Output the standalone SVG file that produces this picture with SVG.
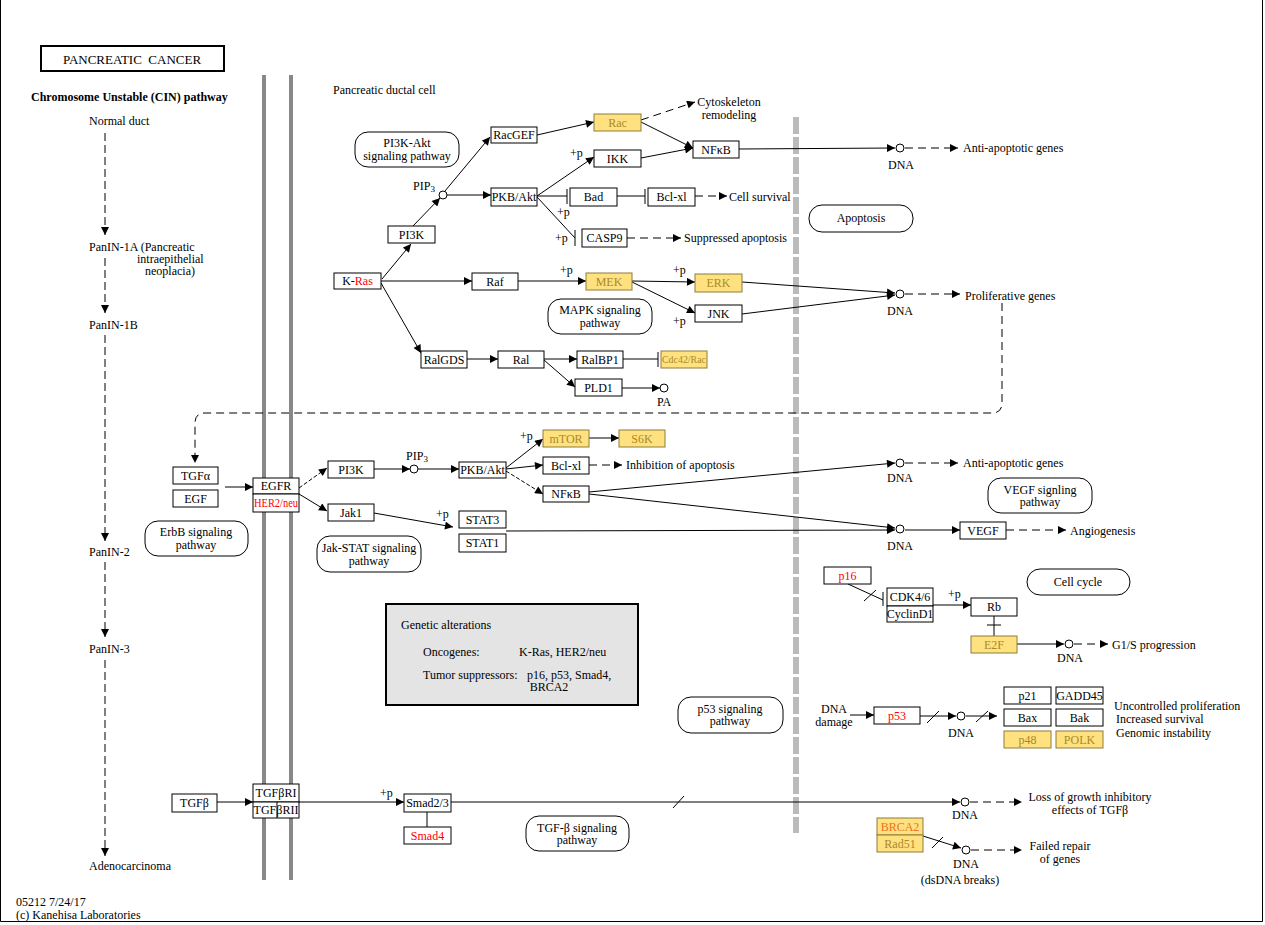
<svg xmlns="http://www.w3.org/2000/svg" width="1265" height="925" viewBox="0 0 1265 925" font-family="'Liberation Serif','Times New Roman',serif">
<defs>
<marker id="ah" viewBox="0 0 10 10" refX="10" refY="5" markerWidth="9" markerHeight="8" markerUnits="userSpaceOnUse" orient="auto"><path d="M0,0L10,5L0,10z" fill="#000"/></marker>
<style>
text{font-family:"Liberation Serif","Times New Roman",serif;font-size:12px;fill:#000}
.c{text-anchor:middle}
.b{fill:#fff;stroke:#000;stroke-width:1}
.y{fill:#ffe27f;stroke:#8c7c3c;stroke-width:1}
.p{fill:#fff;stroke:#000;stroke-width:1}
.yt{fill:#a8892a}
.rt{fill:#f00}
.e{stroke:#000;stroke-width:1;fill:none}
.a{marker-end:url(#ah)}
.d{stroke-dasharray:8 5}
.ld{stroke-dasharray:8 4}
.sd{stroke-dasharray:4 2}
.dna{fill:#fff;stroke:#000;stroke-width:1}
</style>
</defs>
<rect x="0" y="0" width="1265" height="925" fill="#fff"/>
<path d="M0.5,0 V921.5 H1262.5 V0" fill="none" stroke="#000" stroke-width="1"/>

<g id="title">
<rect x="41" y="46" width="183" height="25" fill="#fff" stroke="#000" stroke-width="2"/>
<text x="132" y="64" class="c" xml:space="preserve" style="font-size:13px">PANCREATIC  CANCER</text>
</g>

<g id="labels">
<text x="31" y="101" font-weight="bold">Chromosome Unstable (CIN) pathway</text>
<text x="89" y="125">Normal duct</text>
<text x="89" y="251">PanIN-1A (Pancreatic</text>
<text x="137" y="263">intraepithelial</text>
<text x="145" y="275">neoplacia)</text>
<text x="89" y="329">PanIN-1B</text>
<text x="89" y="556">PanIN-2</text>
<text x="89" y="653">PanIN-3</text>
<text x="89" y="870">Adenocarcinoma</text>
<text x="16" y="906">05212 7/24/17</text>
<text x="16" y="919">(c) Kanehisa Laboratories</text>
<text x="333" y="94">Pancreatic ductal cell</text>
<text x="729" y="106" class="c">Cytoskeleton</text>
<text x="729" y="119" class="c">remodeling</text>
<text x="729" y="201">Cell survival</text>
<text x="684" y="242">Suppressed apoptosis</text>
<text x="963" y="152">Anti-apoptotic genes</text>
<text x="965" y="300">Proliferative genes</text>
<text x="901" y="169" class="c">DNA</text>
<text x="900" y="315" class="c">DNA</text>
<text x="664" y="406" class="c">PA</text>
<text x="424" y="190" class="c">PIP<tspan font-size="9" dy="2">3</tspan></text>
<text x="417" y="460" class="c">PIP<tspan font-size="9" dy="2">3</tspan></text>
<text x="570" y="157">+p</text>
<text x="557" y="216">+p</text>
<text x="555" y="242">+p</text>
<text x="560" y="274">+p</text>
<text x="673" y="274">+p</text>
<text x="673" y="325">+p</text>
<text x="520" y="440">+p</text>
<text x="436" y="518">+p</text>
<text x="948" y="598">+p</text>
<text x="380" y="797">+p</text>
<text x="626" y="469">Inhibition of apoptosis</text>
<text x="963" y="467">Anti-apoptotic genes</text>
<text x="900" y="482" class="c">DNA</text>
<text x="900" y="550" class="c">DNA</text>
<text x="1070" y="535">Angiogenesis</text>
<text x="1070" y="662" class="c">DNA</text>
<text x="1112" y="649">G1/S progression</text>
<text x="834" y="713" class="c">DNA</text>
<text x="834" y="726" class="c">damage</text>
<text x="961" y="737" class="c">DNA</text>
<text x="1114" y="710">Uncontrolled proliferation</text>
<text x="1116" y="723">Increased survival</text>
<text x="1116" y="737">Genomic instability</text>
<text x="1090" y="801" class="c">Loss of growth inhibitory</text>
<text x="1090" y="814" class="c">effects of TGFβ</text>
<text x="965" y="819" class="c">DNA</text>
<text x="1060" y="850" class="c">Failed repair</text>
<text x="1060" y="863" class="c">of genes</text>
<text x="966" y="868" class="c">DNA</text>
<text x="960" y="884" class="c">(dsDNA breaks)</text>
</g>

<g id="membranes">
<rect x="262" y="75" width="4" height="805" fill="#888"/>
<rect x="289" y="75" width="4" height="805" fill="#888"/>
<line x1="796" y1="117" x2="796" y2="833" stroke="#bbb" stroke-width="6" stroke-dasharray="17 3"/>
</g>

<g id="connectors">
<line class="e a ld" x1="105" y1="133" x2="105" y2="235"/>
<line class="e a ld" x1="105" y1="258" x2="105" y2="313"/>
<line class="e a ld" x1="105" y1="335" x2="105" y2="541"/>
<line class="e a ld" x1="105" y1="562" x2="105" y2="637"/>
<line class="e a ld" x1="105" y1="660" x2="105" y2="856"/>

<line class="e a" x1="382" y1="279" x2="411" y2="244"/>
<line class="e a" x1="413" y1="226" x2="440" y2="198"/>
<line class="e a" x1="445" y1="191" x2="490" y2="137"/>
<line class="e a" x1="447" y1="195" x2="491" y2="195"/>
<line class="e a" x1="537" y1="135" x2="594" y2="122"/>
<line class="e a d" x1="641" y1="120" x2="695" y2="102"/>
<line class="e a" x1="641" y1="122" x2="693" y2="148"/>
<line class="e a" x1="641" y1="158" x2="693" y2="148"/>
<line class="e a" x1="537" y1="196" x2="594" y2="157"/>
<line class="e" x1="537" y1="196" x2="567" y2="196"/>
<line class="e" x1="567" y1="189" x2="567" y2="204"/>
<line class="e" x1="617" y1="196" x2="645" y2="196"/>
<line class="e" x1="645" y1="189" x2="645" y2="204"/>
<line class="e a d" x1="695" y1="196" x2="727" y2="196"/>
<line class="e" x1="537" y1="197" x2="575" y2="238"/>
<line class="e" x1="575" y1="230" x2="575" y2="246"/>
<line class="e a d" x1="627" y1="238" x2="681" y2="238"/>
<line class="e a" x1="739" y1="149" x2="895" y2="148"/>
<line class="e a d" x1="905" y1="148" x2="958" y2="148"/>

<line class="e a" x1="381" y1="281" x2="472" y2="281"/>
<line class="e a" x1="381" y1="283" x2="421" y2="353"/>
<line class="e a" x1="518" y1="281" x2="586" y2="281"/>
<line class="e a" x1="632" y1="281" x2="695" y2="282"/>
<line class="e a" x1="632" y1="282" x2="695" y2="313"/>
<line class="e a" x1="742" y1="282" x2="895" y2="293"/>
<line class="e a" x1="742" y1="314" x2="895" y2="295"/>
<line class="e a d" x1="905" y1="294" x2="960" y2="294"/>
<path class="e a d" d="M1002,303 V403 Q1002,413 992,413 H205 Q195,413 195,423 V463"/>
<line class="e a" x1="467" y1="359" x2="498" y2="359"/>
<line class="e a" x1="544" y1="359" x2="577" y2="359"/>
<line class="e a" x1="544" y1="360" x2="575" y2="387"/>
<line class="e" x1="623" y1="359" x2="658" y2="359"/>
<line class="e" x1="658" y1="352" x2="658" y2="367"/>
<line class="e a" x1="622" y1="388" x2="660" y2="388"/>

<line class="e a" x1="225" y1="487" x2="253" y2="487"/>
<line class="e a sd" x1="299" y1="488" x2="327" y2="468"/>
<line class="e a" x1="299" y1="494" x2="327" y2="511"/>
<line class="e a" x1="374" y1="469" x2="410" y2="469"/>
<line class="e a" x1="418" y1="469" x2="459" y2="469"/>
<line class="e a" x1="506" y1="468" x2="543" y2="439"/>
<line class="e a" x1="506" y1="469" x2="543" y2="465"/>
<line class="e a sd" x1="506" y1="471" x2="543" y2="494"/>
<line class="e a" x1="589" y1="438" x2="619" y2="438"/>
<line class="e a d" x1="589" y1="465" x2="622" y2="465"/>
<line class="e a" x1="589" y1="492" x2="895" y2="463"/>
<line class="e a d" x1="905" y1="463" x2="958" y2="463"/>
<line class="e a" x1="589" y1="494" x2="895" y2="528"/>
<line class="e a" x1="506" y1="531" x2="895" y2="530"/>
<line class="e a" x1="374" y1="513" x2="453" y2="527"/>
<line class="e a" x1="905" y1="530" x2="960" y2="530"/>
<line class="e a d" x1="1006" y1="530" x2="1066" y2="530"/>

<line class="e" x1="848" y1="584" x2="883" y2="600"/>
<line class="e" x1="883" y1="592" x2="883" y2="606"/>
<line class="e" x1="864" y1="601" x2="876" y2="590"/>
<line class="e a" x1="933" y1="605" x2="971" y2="605"/>
<line class="e" x1="994" y1="616" x2="994" y2="636"/>
<line class="e" x1="987" y1="625" x2="1001" y2="625"/>
<line class="e a" x1="1017" y1="644" x2="1064" y2="644"/>
<line class="e a d" x1="1074" y1="644" x2="1108" y2="644"/>
<line class="e a" x1="850" y1="715" x2="874" y2="715"/>
<line class="e a" x1="920" y1="716" x2="956" y2="716"/>
<line class="e" x1="927" y1="723" x2="939" y2="711"/>
<line class="e a" x1="966" y1="716" x2="997" y2="716"/>
<line class="e" x1="976" y1="722" x2="988" y2="711"/>

<line class="e a" x1="217" y1="802" x2="253" y2="802"/>
<line class="e a" x1="299" y1="802" x2="404" y2="802"/>
<line class="e" x1="427" y1="812" x2="427" y2="827"/>
<line class="e a" x1="451" y1="802" x2="960" y2="802"/>
<line class="e" x1="673" y1="808" x2="684" y2="796"/>
<line class="e a d" x1="970" y1="802" x2="1022" y2="802"/>
<line class="e a" x1="923" y1="836" x2="961" y2="848"/>
<line class="e" x1="932" y1="848" x2="943" y2="837"/>
<line class="e a d" x1="971" y1="850" x2="1022" y2="850"/>

<circle class="dna" cx="900" cy="148" r="4"/>
<circle class="dna" cx="900" cy="294" r="4"/>
<circle class="dna" cx="443" cy="195" r="4"/>
<circle class="dna" cx="664" cy="388" r="4"/>
<circle class="dna" cx="414" cy="469" r="4"/>
<circle class="dna" cx="900" cy="463" r="4"/>
<circle class="dna" cx="900" cy="529" r="4"/>
<circle class="dna" cx="1069" cy="644" r="4"/>
<circle class="dna" cx="961" cy="716" r="4"/>
<circle class="dna" cx="965" cy="802" r="4"/>
<circle class="dna" cx="966" cy="850" r="4"/>
</g>

<g id="pw-pi3k"><rect class="p" x="355" y="132" width="104" height="35" rx="13"/><text x="407" y="147" class="c">PI3K-Akt</text><text x="407" y="160" class="c">signaling pathway</text></g>
<g id="pw-mapk"><rect class="p" x="548" y="299" width="104" height="35" rx="13"/><text x="600" y="314" class="c">MAPK signaling</text><text x="600" y="327" class="c">pathway</text></g>
<g id="pw-apop"><rect class="p" x="809" y="205" width="104" height="27" rx="13"/><text x="861" y="222" class="c">Apoptosis</text></g>
<g id="pw-erbb"><rect class="p" x="145" y="521" width="103" height="35" rx="13"/><text x="196" y="536" class="c">ErbB signaling</text><text x="196" y="549" class="c">pathway</text></g>
<g id="pw-jak"><rect class="p" x="317" y="536" width="104" height="36" rx="13"/><text x="369" y="552" class="c">Jak-STAT signaling</text><text x="369" y="565" class="c">pathway</text></g>
<g id="pw-vegf"><rect class="p" x="988" y="478" width="104" height="35" rx="13"/><text x="1040" y="494" class="c">VEGF signling</text><text x="1040" y="506" class="c">pathway</text></g>
<g id="pw-cc"><rect class="p" x="1027" y="569" width="103" height="26" rx="13"/><text x="1078" y="586" class="c">Cell cycle</text></g>
<g id="pw-p53"><rect class="p" x="678" y="697" width="105" height="36" rx="13"/><text x="730" y="713" class="c">p53 signaling</text><text x="730" y="725" class="c">pathway</text></g>
<g id="pw-tgf"><rect class="p" x="526" y="816" width="103" height="35" rx="13"/><text x="577" y="832" class="c">TGF-β signaling</text><text x="577" y="844" class="c">pathway</text></g>

<g id="genetic">
<rect x="386" y="604" width="252" height="101" fill="#e4e4e4" stroke="#000" stroke-width="2"/>
<text x="401" y="629">Genetic alterations</text>
<text x="423" y="656">Oncogenes:</text>
<text x="519" y="656">K-Ras, HER2/neu</text>
<text x="423" y="679">Tumor suppressors:</text>
<text x="527" y="679">p16, p53, Smad4,</text>
<text x="549" y="691" class="c">BRCA2</text>
</g>

<g id="RacGEF"><rect class="b" x="491" y="127" width="46" height="16"/><text x="514" y="139" class="c">RacGEF</text></g>
<g id="Rac"><rect class="y" x="594" y="114" width="47" height="17"/><text x="617.5" y="127" class="c yt">Rac</text></g>
<g id="NFkB1"><rect class="b" x="693" y="141" width="46" height="17"/><text x="716" y="154" class="c">NFκB</text></g>
<g id="IKK"><rect class="b" x="594" y="150" width="47" height="17"/><text x="617.5" y="163" class="c">IKK</text></g>
<g id="PKB1"><rect class="b" x="491" y="188" width="46" height="18"/><text x="514" y="201" class="c">PKB/Akt</text></g>
<g id="Bad"><rect class="b" x="570" y="188" width="47" height="18"/><text x="593.5" y="201" class="c">Bad</text></g>
<g id="Bclxl1"><rect class="b" x="648" y="188" width="47" height="18"/><text x="671.5" y="201" class="c">Bcl-xl</text></g>
<g id="CASP9"><rect class="b" x="582" y="229" width="45" height="18"/><text x="604.5" y="242" class="c">CASP9</text></g>
<g id="PI3K1"><rect class="b" x="388" y="226" width="47" height="17"/><text x="411.5" y="239" class="c">PI3K</text></g>
<g id="KRas"><rect class="b" x="334" y="273" width="47" height="16"/><text x="357.5" y="285" class="c">K-<tspan class="rt">Ras</tspan></text></g>
<g id="Raf"><rect class="b" x="472" y="273" width="46" height="17"/><text x="495" y="286" class="c">Raf</text></g>
<g id="MEK"><rect class="y" x="586" y="273" width="46" height="17"/><text x="609" y="286" class="c yt">MEK</text></g>
<g id="ERK"><rect class="y" x="695" y="274" width="47" height="18"/><text x="718.5" y="287" class="c yt">ERK</text></g>
<g id="JNK"><rect class="b" x="695" y="305" width="47" height="17"/><text x="718.5" y="318" class="c">JNK</text></g>
<g id="RalGDS"><rect class="b" x="421" y="351" width="46" height="17"/><text x="444" y="364" class="c">RalGDS</text></g>
<g id="Ral"><rect class="b" x="498" y="351" width="46" height="17"/><text x="521" y="364" class="c">Ral</text></g>
<g id="RalBP1"><rect class="b" x="577" y="351" width="46" height="17"/><text x="600" y="364" class="c">RalBP1</text></g>
<g id="Cdc42"><rect class="y" x="661" y="351" width="46" height="17"/><text x="684" y="363" class="c yt" style="font-size:10px" textLength="44" lengthAdjust="spacingAndGlyphs">Cdc42/Rac</text></g>
<g id="PLD1"><rect class="b" x="575" y="379" width="47" height="17"/><text x="598.5" y="392" class="c">PLD1</text></g>

<g id="TGFa"><rect class="b" x="173" y="467" width="45" height="17"/><text x="195.5" y="480" class="c">TGFα</text></g>
<g id="EGF"><rect class="b" x="173" y="490" width="45" height="17"/><text x="195.5" y="503" class="c">EGF</text></g>
<g id="EGFR"><rect class="b" x="253" y="478" width="46" height="16"/><text x="276" y="490" class="c">EGFR</text><rect class="b" x="253" y="494" width="46" height="18"/><text x="276" y="507" class="c rt" textLength="44" lengthAdjust="spacingAndGlyphs">HER2/neu</text></g>
<g id="PI3K2"><rect class="b" x="328" y="461" width="46" height="17"/><text x="351" y="474" class="c">PI3K</text></g>
<g id="PKB2"><rect class="b" x="459" y="462" width="47" height="16"/><text x="482.5" y="474" class="c">PKB/Akt</text></g>
<g id="mTOR"><rect class="y" x="543" y="430" width="46" height="17"/><text x="566" y="443" class="c yt">mTOR</text></g>
<g id="S6K"><rect class="y" x="619" y="430" width="46" height="17"/><text x="642" y="443" class="c yt">S6K</text></g>
<g id="Bclxl2"><rect class="b" x="543" y="457" width="46" height="17"/><text x="566" y="470" class="c">Bcl-xl</text></g>
<g id="NFkB2"><rect class="b" x="543" y="486" width="46" height="16"/><text x="566" y="498" class="c">NFκB</text></g>
<g id="Jak1"><rect class="b" x="328" y="504" width="46" height="17"/><text x="351" y="517" class="c">Jak1</text></g>
<g id="STAT3"><rect class="b" x="459" y="511" width="47" height="17"/><text x="482.5" y="524" class="c">STAT3</text></g>
<g id="STAT1"><rect class="b" x="459" y="534" width="47" height="18"/><text x="482.5" y="547" class="c">STAT1</text></g>
<g id="VEGF"><rect class="b" x="960" y="522" width="46" height="17"/><text x="983" y="535" class="c">VEGF</text></g>

<g id="p16"><rect class="b" x="824" y="567" width="47" height="17"/><text x="847.5" y="580" class="c rt">p16</text></g>
<g id="CDK"><rect class="b" x="887" y="588" width="46" height="18"/><text x="910" y="601" class="c">CDK4/6</text><rect class="b" x="887" y="606" width="46" height="16"/><text x="910" y="618" class="c">CyclinD1</text></g>
<g id="Rb"><rect class="b" x="971" y="598" width="46" height="18"/><text x="994" y="611" class="c">Rb</text></g>
<g id="E2F"><rect class="y" x="971" y="636" width="46" height="17"/><text x="994" y="649" class="c yt">E2F</text></g>
<g id="p53"><rect class="b" x="874" y="707" width="46" height="17"/><text x="897" y="720" class="c rt">p53</text></g>
<g id="p21"><rect class="b" x="1004" y="687" width="47" height="17"/><text x="1027.5" y="700" class="c">p21</text></g>
<g id="GADD45"><rect class="b" x="1056" y="687" width="47" height="17"/><text x="1079.5" y="700" class="c">GADD45</text></g>
<g id="Bax"><rect class="b" x="1004" y="709" width="47" height="17"/><text x="1027.5" y="722" class="c">Bax</text></g>
<g id="Bak"><rect class="b" x="1056" y="709" width="47" height="17"/><text x="1079.5" y="722" class="c">Bak</text></g>
<g id="p48"><rect class="y" x="1004" y="731" width="47" height="17"/><text x="1027.5" y="744" class="c yt">p48</text></g>
<g id="POLK"><rect class="y" x="1056" y="731" width="47" height="17"/><text x="1079.5" y="744" class="c yt">POLK</text></g>

<g id="TGFb"><rect class="b" x="172" y="794" width="45" height="18"/><text x="194.5" y="807" class="c">TGFβ</text></g>
<g id="TGFbR"><rect class="b" x="253" y="784" width="46" height="18"/><text x="276" y="797" class="c">TGFβRI</text><rect class="b" x="253" y="802" width="46" height="16"/><line x1="277" y1="802" x2="277" y2="818" stroke="#000"/><text x="276" y="814" class="c">TGFβRII</text></g>
<g id="Smad23"><rect class="b" x="404" y="794" width="47" height="18"/><text x="427.5" y="807" class="c">Smad2/3</text></g>
<g id="Smad4"><rect class="b" x="404" y="827" width="47" height="17"/><text x="427.5" y="840" class="c rt">Smad4</text></g>
<g id="BRCA2"><rect class="y" x="877" y="818" width="46" height="17"/><text x="900" y="831" class="c" style="fill:#f07020">BRCA2</text><rect class="y" x="877" y="835" width="46" height="17"/><text x="900" y="848" class="c yt">Rad51</text></g>
</svg>
